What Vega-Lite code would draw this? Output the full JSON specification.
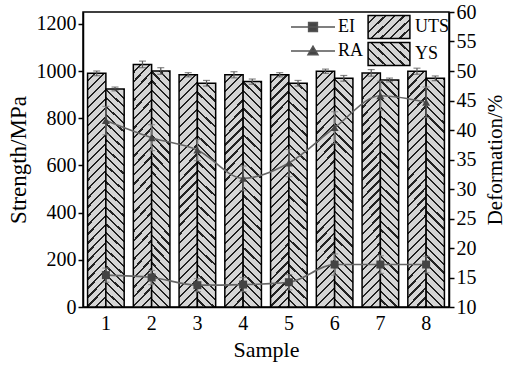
{
  "$schema": "https://vega.github.io/schema/vega-lite/v6.json",
  "width": 366,
  "height": 295,
  "autosize": "none",
  "padding": {"left": 83, "top": 12, "right": 59, "bottom": 62},
  "config": {
    "font": "Liberation Serif",
    "view": {"stroke": "black", "strokeWidth": 1.5},
    "axis": {"domainColor": "black", "domainWidth": 1.5, "tickColor": "black", "tickWidth": 1.5, "labelColor": "black", "titleColor": "black", "grid": false, "labelFontSize": 20, "titleFontSize": 22, "titleFontWeight": "normal"},
    "legend": {"labelColor": "black"}
  },
  "datasets": {
    "bars": [
      {"Sample": 1, "Type": "UTS", "Value": 990, "Lo": 980, "Hi": 1000},
      {"Sample": 1, "Type": "YS", "Value": 924, "Lo": 916, "Hi": 932},
      {"Sample": 2, "Type": "UTS", "Value": 1028, "Lo": 1014, "Hi": 1042},
      {"Sample": 2, "Type": "YS", "Value": 1000, "Lo": 986, "Hi": 1014},
      {"Sample": 3, "Type": "UTS", "Value": 984, "Lo": 975, "Hi": 993},
      {"Sample": 3, "Type": "YS", "Value": 948, "Lo": 936, "Hi": 960},
      {"Sample": 4, "Type": "UTS", "Value": 984, "Lo": 971, "Hi": 997},
      {"Sample": 4, "Type": "YS", "Value": 955, "Lo": 944, "Hi": 966},
      {"Sample": 5, "Type": "UTS", "Value": 984, "Lo": 975, "Hi": 993},
      {"Sample": 5, "Type": "YS", "Value": 948, "Lo": 936, "Hi": 960},
      {"Sample": 6, "Type": "UTS", "Value": 999, "Lo": 990, "Hi": 1008},
      {"Sample": 6, "Type": "YS", "Value": 969, "Lo": 957, "Hi": 981},
      {"Sample": 7, "Type": "UTS", "Value": 992, "Lo": 978, "Hi": 1006},
      {"Sample": 7, "Type": "YS", "Value": 962, "Lo": 954, "Hi": 970},
      {"Sample": 8, "Type": "UTS", "Value": 999, "Lo": 986, "Hi": 1012},
      {"Sample": 8, "Type": "YS", "Value": 969, "Lo": 959, "Hi": 979}
    ],
    "lines": [
      {"Series": "EI", "Sample": 1, "Value": 15.4, "Lo": 14.2, "Hi": 16.6},
      {"Series": "EI", "Sample": 2, "Value": 15.0, "Lo": 13.8, "Hi": 16.2},
      {"Series": "EI", "Sample": 3, "Value": 13.7, "Lo": 12.6, "Hi": 14.8},
      {"Series": "EI", "Sample": 4, "Value": 13.8, "Lo": 12.6, "Hi": 15.0},
      {"Series": "EI", "Sample": 5, "Value": 14.2, "Lo": 12.9, "Hi": 15.5},
      {"Series": "EI", "Sample": 6, "Value": 17.2, "Lo": 15.4, "Hi": 19.0},
      {"Series": "EI", "Sample": 7, "Value": 17.2, "Lo": 15.7, "Hi": 18.7},
      {"Series": "EI", "Sample": 8, "Value": 17.2, "Lo": 15.8, "Hi": 18.6},
      {"Series": "RA", "Sample": 1, "Value": 41.6, "Lo": 39.2, "Hi": 44.0},
      {"Series": "RA", "Sample": 2, "Value": 38.7, "Lo": 36.5, "Hi": 40.9},
      {"Series": "RA", "Sample": 3, "Value": 36.6, "Lo": 34.8, "Hi": 38.4},
      {"Series": "RA", "Sample": 4, "Value": 31.8, "Lo": 29.7, "Hi": 33.9},
      {"Series": "RA", "Sample": 5, "Value": 34.4, "Lo": 32.1, "Hi": 36.7},
      {"Series": "RA", "Sample": 6, "Value": 40.4, "Lo": 37.7, "Hi": 43.1},
      {"Series": "RA", "Sample": 7, "Value": 45.8, "Lo": 43.3, "Hi": 48.3},
      {"Series": "RA", "Sample": 8, "Value": 44.7, "Lo": 42.1, "Hi": 47.3}
    ]
  },
  "encoding": {
    "x": {"field": "Sample", "type": "ordinal", "scale": {"domain": [1, 2, 3, 4, 5, 6, 7, 8], "paddingInner": 0.2, "paddingOuter": 0.1}, "axis": {"title": "Sample", "labelAngle": 0, "ticks": false, "labelPadding": 6, "titlePadding": 6, "titleFontSize": 22}}
  },
  "layer": [
    {
      "data": {"name": "bars"},
      "encoding": {
        "y": {"field": "Value", "type": "quantitative", "title": "Strength/MPa", "scale": {"domain": [0, 1250], "nice": false}, "axis": {"orient": "left", "values": [0, 200, 400, 600, 800, 1000, 1200], "format": "d", "tickSize": 5, "labelPadding": 2, "titleFontSize": 23, "titlePadding": 6}}
      },
      "layer": [
        {
          "transform": [{"filter": "datum.Type === 'UTS'"}],
          "mark": {"type": "bar", "stroke": "black", "strokeWidth": 1.5, "fill": {"gradient": "linear", "x1": 0, "y1": 0, "x2": 0.0854, "y2": 1.0728, "stops": [
            {"offset": 0, "color": "#d6d6d6"}, {"offset": 0.0268, "color": "#d6d6d6"}, {"offset": 0.0268, "color": "#222222"}, {"offset": 0.0357, "color": "#222222"},
            {"offset": 0.0357, "color": "#d6d6d6"}, {"offset": 0.0625, "color": "#d6d6d6"}, {"offset": 0.0625, "color": "#222222"}, {"offset": 0.0714, "color": "#222222"},
            {"offset": 0.0714, "color": "#d6d6d6"}, {"offset": 0.0982, "color": "#d6d6d6"}, {"offset": 0.0982, "color": "#222222"}, {"offset": 0.1071, "color": "#222222"},
            {"offset": 0.1071, "color": "#d6d6d6"}, {"offset": 0.1339, "color": "#d6d6d6"}, {"offset": 0.1339, "color": "#222222"}, {"offset": 0.1429, "color": "#222222"},
            {"offset": 0.1429, "color": "#d6d6d6"}, {"offset": 0.1696, "color": "#d6d6d6"}, {"offset": 0.1696, "color": "#222222"}, {"offset": 0.1786, "color": "#222222"},
            {"offset": 0.1786, "color": "#d6d6d6"}, {"offset": 0.2054, "color": "#d6d6d6"}, {"offset": 0.2054, "color": "#222222"}, {"offset": 0.2143, "color": "#222222"},
            {"offset": 0.2143, "color": "#d6d6d6"}, {"offset": 0.2411, "color": "#d6d6d6"}, {"offset": 0.2411, "color": "#222222"}, {"offset": 0.25, "color": "#222222"},
            {"offset": 0.25, "color": "#d6d6d6"}, {"offset": 0.2768, "color": "#d6d6d6"}, {"offset": 0.2768, "color": "#222222"}, {"offset": 0.2857, "color": "#222222"},
            {"offset": 0.2857, "color": "#d6d6d6"}, {"offset": 0.3125, "color": "#d6d6d6"}, {"offset": 0.3125, "color": "#222222"}, {"offset": 0.3214, "color": "#222222"},
            {"offset": 0.3214, "color": "#d6d6d6"}, {"offset": 0.3482, "color": "#d6d6d6"}, {"offset": 0.3482, "color": "#222222"}, {"offset": 0.3571, "color": "#222222"},
            {"offset": 0.3571, "color": "#d6d6d6"}, {"offset": 0.3839, "color": "#d6d6d6"}, {"offset": 0.3839, "color": "#222222"}, {"offset": 0.3929, "color": "#222222"},
            {"offset": 0.3929, "color": "#d6d6d6"}, {"offset": 0.4196, "color": "#d6d6d6"}, {"offset": 0.4196, "color": "#222222"}, {"offset": 0.4286, "color": "#222222"},
            {"offset": 0.4286, "color": "#d6d6d6"}, {"offset": 0.4554, "color": "#d6d6d6"}, {"offset": 0.4554, "color": "#222222"}, {"offset": 0.4643, "color": "#222222"},
            {"offset": 0.4643, "color": "#d6d6d6"}, {"offset": 0.4911, "color": "#d6d6d6"}, {"offset": 0.4911, "color": "#222222"}, {"offset": 0.5, "color": "#222222"},
            {"offset": 0.5, "color": "#d6d6d6"}, {"offset": 0.5268, "color": "#d6d6d6"}, {"offset": 0.5268, "color": "#222222"}, {"offset": 0.5357, "color": "#222222"},
            {"offset": 0.5357, "color": "#d6d6d6"}, {"offset": 0.5625, "color": "#d6d6d6"}, {"offset": 0.5625, "color": "#222222"}, {"offset": 0.5714, "color": "#222222"},
            {"offset": 0.5714, "color": "#d6d6d6"}, {"offset": 0.5982, "color": "#d6d6d6"}, {"offset": 0.5982, "color": "#222222"}, {"offset": 0.6071, "color": "#222222"},
            {"offset": 0.6071, "color": "#d6d6d6"}, {"offset": 0.6339, "color": "#d6d6d6"}, {"offset": 0.6339, "color": "#222222"}, {"offset": 0.6429, "color": "#222222"},
            {"offset": 0.6429, "color": "#d6d6d6"}, {"offset": 0.6696, "color": "#d6d6d6"}, {"offset": 0.6696, "color": "#222222"}, {"offset": 0.6786, "color": "#222222"},
            {"offset": 0.6786, "color": "#d6d6d6"}, {"offset": 0.7054, "color": "#d6d6d6"}, {"offset": 0.7054, "color": "#222222"}, {"offset": 0.7143, "color": "#222222"},
            {"offset": 0.7143, "color": "#d6d6d6"}, {"offset": 0.7411, "color": "#d6d6d6"}, {"offset": 0.7411, "color": "#222222"}, {"offset": 0.75, "color": "#222222"},
            {"offset": 0.75, "color": "#d6d6d6"}, {"offset": 0.7768, "color": "#d6d6d6"}, {"offset": 0.7768, "color": "#222222"}, {"offset": 0.7857, "color": "#222222"},
            {"offset": 0.7857, "color": "#d6d6d6"}, {"offset": 0.8125, "color": "#d6d6d6"}, {"offset": 0.8125, "color": "#222222"}, {"offset": 0.8214, "color": "#222222"},
            {"offset": 0.8214, "color": "#d6d6d6"}, {"offset": 0.8482, "color": "#d6d6d6"}, {"offset": 0.8482, "color": "#222222"}, {"offset": 0.8571, "color": "#222222"},
            {"offset": 0.8571, "color": "#d6d6d6"}, {"offset": 0.8839, "color": "#d6d6d6"}, {"offset": 0.8839, "color": "#222222"}, {"offset": 0.8929, "color": "#222222"},
            {"offset": 0.8929, "color": "#d6d6d6"}, {"offset": 0.9196, "color": "#d6d6d6"}, {"offset": 0.9196, "color": "#222222"}, {"offset": 0.9286, "color": "#222222"},
            {"offset": 0.9286, "color": "#d6d6d6"}, {"offset": 0.9554, "color": "#d6d6d6"}, {"offset": 0.9554, "color": "#222222"}, {"offset": 0.9643, "color": "#222222"},
            {"offset": 0.9643, "color": "#d6d6d6"}, {"offset": 0.9911, "color": "#d6d6d6"}, {"offset": 0.9911, "color": "#222222"}, {"offset": 1, "color": "#222222"}
          ]}},
          "encoding": {"xOffset": {"field": "Type", "type": "nominal", "scale": {"domain": ["UTS", "YS"], "paddingInner": 0, "paddingOuter": 0}}}
        },
        {
          "transform": [{"filter": "datum.Type === 'YS'"}],
          "mark": {"type": "bar", "stroke": "black", "strokeWidth": 1.5, "fill": {"gradient": "linear", "x1": 0, "y1": 1, "x2": 0.0854, "y2": -0.0728, "stops": [
            {"offset": 0, "color": "#d6d6d6"}, {"offset": 0.0268, "color": "#d6d6d6"}, {"offset": 0.0268, "color": "#222222"}, {"offset": 0.0357, "color": "#222222"},
            {"offset": 0.0357, "color": "#d6d6d6"}, {"offset": 0.0625, "color": "#d6d6d6"}, {"offset": 0.0625, "color": "#222222"}, {"offset": 0.0714, "color": "#222222"},
            {"offset": 0.0714, "color": "#d6d6d6"}, {"offset": 0.0982, "color": "#d6d6d6"}, {"offset": 0.0982, "color": "#222222"}, {"offset": 0.1071, "color": "#222222"},
            {"offset": 0.1071, "color": "#d6d6d6"}, {"offset": 0.1339, "color": "#d6d6d6"}, {"offset": 0.1339, "color": "#222222"}, {"offset": 0.1429, "color": "#222222"},
            {"offset": 0.1429, "color": "#d6d6d6"}, {"offset": 0.1696, "color": "#d6d6d6"}, {"offset": 0.1696, "color": "#222222"}, {"offset": 0.1786, "color": "#222222"},
            {"offset": 0.1786, "color": "#d6d6d6"}, {"offset": 0.2054, "color": "#d6d6d6"}, {"offset": 0.2054, "color": "#222222"}, {"offset": 0.2143, "color": "#222222"},
            {"offset": 0.2143, "color": "#d6d6d6"}, {"offset": 0.2411, "color": "#d6d6d6"}, {"offset": 0.2411, "color": "#222222"}, {"offset": 0.25, "color": "#222222"},
            {"offset": 0.25, "color": "#d6d6d6"}, {"offset": 0.2768, "color": "#d6d6d6"}, {"offset": 0.2768, "color": "#222222"}, {"offset": 0.2857, "color": "#222222"},
            {"offset": 0.2857, "color": "#d6d6d6"}, {"offset": 0.3125, "color": "#d6d6d6"}, {"offset": 0.3125, "color": "#222222"}, {"offset": 0.3214, "color": "#222222"},
            {"offset": 0.3214, "color": "#d6d6d6"}, {"offset": 0.3482, "color": "#d6d6d6"}, {"offset": 0.3482, "color": "#222222"}, {"offset": 0.3571, "color": "#222222"},
            {"offset": 0.3571, "color": "#d6d6d6"}, {"offset": 0.3839, "color": "#d6d6d6"}, {"offset": 0.3839, "color": "#222222"}, {"offset": 0.3929, "color": "#222222"},
            {"offset": 0.3929, "color": "#d6d6d6"}, {"offset": 0.4196, "color": "#d6d6d6"}, {"offset": 0.4196, "color": "#222222"}, {"offset": 0.4286, "color": "#222222"},
            {"offset": 0.4286, "color": "#d6d6d6"}, {"offset": 0.4554, "color": "#d6d6d6"}, {"offset": 0.4554, "color": "#222222"}, {"offset": 0.4643, "color": "#222222"},
            {"offset": 0.4643, "color": "#d6d6d6"}, {"offset": 0.4911, "color": "#d6d6d6"}, {"offset": 0.4911, "color": "#222222"}, {"offset": 0.5, "color": "#222222"},
            {"offset": 0.5, "color": "#d6d6d6"}, {"offset": 0.5268, "color": "#d6d6d6"}, {"offset": 0.5268, "color": "#222222"}, {"offset": 0.5357, "color": "#222222"},
            {"offset": 0.5357, "color": "#d6d6d6"}, {"offset": 0.5625, "color": "#d6d6d6"}, {"offset": 0.5625, "color": "#222222"}, {"offset": 0.5714, "color": "#222222"},
            {"offset": 0.5714, "color": "#d6d6d6"}, {"offset": 0.5982, "color": "#d6d6d6"}, {"offset": 0.5982, "color": "#222222"}, {"offset": 0.6071, "color": "#222222"},
            {"offset": 0.6071, "color": "#d6d6d6"}, {"offset": 0.6339, "color": "#d6d6d6"}, {"offset": 0.6339, "color": "#222222"}, {"offset": 0.6429, "color": "#222222"},
            {"offset": 0.6429, "color": "#d6d6d6"}, {"offset": 0.6696, "color": "#d6d6d6"}, {"offset": 0.6696, "color": "#222222"}, {"offset": 0.6786, "color": "#222222"},
            {"offset": 0.6786, "color": "#d6d6d6"}, {"offset": 0.7054, "color": "#d6d6d6"}, {"offset": 0.7054, "color": "#222222"}, {"offset": 0.7143, "color": "#222222"},
            {"offset": 0.7143, "color": "#d6d6d6"}, {"offset": 0.7411, "color": "#d6d6d6"}, {"offset": 0.7411, "color": "#222222"}, {"offset": 0.75, "color": "#222222"},
            {"offset": 0.75, "color": "#d6d6d6"}, {"offset": 0.7768, "color": "#d6d6d6"}, {"offset": 0.7768, "color": "#222222"}, {"offset": 0.7857, "color": "#222222"},
            {"offset": 0.7857, "color": "#d6d6d6"}, {"offset": 0.8125, "color": "#d6d6d6"}, {"offset": 0.8125, "color": "#222222"}, {"offset": 0.8214, "color": "#222222"},
            {"offset": 0.8214, "color": "#d6d6d6"}, {"offset": 0.8482, "color": "#d6d6d6"}, {"offset": 0.8482, "color": "#222222"}, {"offset": 0.8571, "color": "#222222"},
            {"offset": 0.8571, "color": "#d6d6d6"}, {"offset": 0.8839, "color": "#d6d6d6"}, {"offset": 0.8839, "color": "#222222"}, {"offset": 0.8929, "color": "#222222"},
            {"offset": 0.8929, "color": "#d6d6d6"}, {"offset": 0.9196, "color": "#d6d6d6"}, {"offset": 0.9196, "color": "#222222"}, {"offset": 0.9286, "color": "#222222"},
            {"offset": 0.9286, "color": "#d6d6d6"}, {"offset": 0.9554, "color": "#d6d6d6"}, {"offset": 0.9554, "color": "#222222"}, {"offset": 0.9643, "color": "#222222"},
            {"offset": 0.9643, "color": "#d6d6d6"}, {"offset": 0.9911, "color": "#d6d6d6"}, {"offset": 0.9911, "color": "#222222"}, {"offset": 1, "color": "#222222"}
          ]}},
          "encoding": {"xOffset": {"field": "Type", "type": "nominal", "scale": {"domain": ["UTS", "YS"], "paddingInner": 0, "paddingOuter": 0}}}
        },
        {
          "mark": {"type": "rule", "color": "#555555", "strokeWidth": 1.2},
          "encoding": {
            "xOffset": {"field": "Type", "type": "nominal"},
            "y": {"field": "Lo", "type": "quantitative", "title": "Strength/MPa"},
            "y2": {"field": "Hi"}
          }
        },
        {
          "mark": {"type": "tick", "color": "#555555", "size": 7, "thickness": 1.2},
          "encoding": {
            "xOffset": {"field": "Type", "type": "nominal"},
            "y": {"field": "Lo", "type": "quantitative", "title": "Strength/MPa"}
          }
        },
        {
          "mark": {"type": "tick", "color": "#555555", "size": 7, "thickness": 1.2},
          "encoding": {
            "xOffset": {"field": "Type", "type": "nominal"},
            "y": {"field": "Hi", "type": "quantitative", "title": "Strength/MPa"}
          }
        },
        {
          "transform": [{"filter": "datum.Value < 0"}],
          "mark": {"type": "point", "filled": false, "strokeWidth": 1.5, "opacity": 1},
          "encoding": {
            "stroke": {
              "field": "Type",
              "type": "nominal",
              "scale": {"domain": ["UTS", "YS"], "range": ["black", "black"]},
              "legend": {
                "orient": "none", "legendX": 294, "legendY": 3, "title": null,
                "symbolType": "M-1.9,-1.05H1.9V1.05H-1.9Z", "symbolSize": 484,
                "symbolStrokeWidth": 1.5,
                "labelFontSize": 18, "labelOffset": 14, "rowPadding": -6, "padding": 0,
                "encoding": {
                  "symbols": {
                    "stroke": {"value": "black"},
                    "strokeWidth": {"value": 1.5},
                    "opacity": {"value": 1},
                    "fill": {
                      "condition": {
                        "test": "datum.value === 'UTS'",
                        "value": {"gradient": "linear", "x1": 0, "y1": 0, "x2": 1.183, "y2": 0.685, "stops": [
                          {"offset": 0, "color": "#d6d6d6"}, {"offset": 0.1071, "color": "#d6d6d6"}, {"offset": 0.1071, "color": "#222222"}, {"offset": 0.1429, "color": "#222222"},
                          {"offset": 0.1429, "color": "#d6d6d6"}, {"offset": 0.25, "color": "#d6d6d6"}, {"offset": 0.25, "color": "#222222"}, {"offset": 0.2857, "color": "#222222"},
                          {"offset": 0.2857, "color": "#d6d6d6"}, {"offset": 0.3929, "color": "#d6d6d6"}, {"offset": 0.3929, "color": "#222222"}, {"offset": 0.4286, "color": "#222222"},
                          {"offset": 0.4286, "color": "#d6d6d6"}, {"offset": 0.5357, "color": "#d6d6d6"}, {"offset": 0.5357, "color": "#222222"}, {"offset": 0.5714, "color": "#222222"},
                          {"offset": 0.5714, "color": "#d6d6d6"}, {"offset": 0.6786, "color": "#d6d6d6"}, {"offset": 0.6786, "color": "#222222"}, {"offset": 0.7143, "color": "#222222"},
                          {"offset": 0.7143, "color": "#d6d6d6"}, {"offset": 0.8214, "color": "#d6d6d6"}, {"offset": 0.8214, "color": "#222222"}, {"offset": 0.8571, "color": "#222222"},
                          {"offset": 0.8571, "color": "#d6d6d6"}, {"offset": 0.9643, "color": "#d6d6d6"}, {"offset": 0.9643, "color": "#222222"}, {"offset": 1, "color": "#222222"}
                        ]}
                      },
                      "value": {"gradient": "linear", "x1": 0, "y1": 1, "x2": 1.183, "y2": 0.315, "stops": [
                        {"offset": 0, "color": "#d6d6d6"}, {"offset": 0.1071, "color": "#d6d6d6"}, {"offset": 0.1071, "color": "#222222"}, {"offset": 0.1429, "color": "#222222"},
                        {"offset": 0.1429, "color": "#d6d6d6"}, {"offset": 0.25, "color": "#d6d6d6"}, {"offset": 0.25, "color": "#222222"}, {"offset": 0.2857, "color": "#222222"},
                        {"offset": 0.2857, "color": "#d6d6d6"}, {"offset": 0.3929, "color": "#d6d6d6"}, {"offset": 0.3929, "color": "#222222"}, {"offset": 0.4286, "color": "#222222"},
                        {"offset": 0.4286, "color": "#d6d6d6"}, {"offset": 0.5357, "color": "#d6d6d6"}, {"offset": 0.5357, "color": "#222222"}, {"offset": 0.5714, "color": "#222222"},
                        {"offset": 0.5714, "color": "#d6d6d6"}, {"offset": 0.6786, "color": "#d6d6d6"}, {"offset": 0.6786, "color": "#222222"}, {"offset": 0.7143, "color": "#222222"},
                        {"offset": 0.7143, "color": "#d6d6d6"}, {"offset": 0.8214, "color": "#d6d6d6"}, {"offset": 0.8214, "color": "#222222"}, {"offset": 0.8571, "color": "#222222"},
                        {"offset": 0.8571, "color": "#d6d6d6"}, {"offset": 0.9643, "color": "#d6d6d6"}, {"offset": 0.9643, "color": "#222222"}, {"offset": 1, "color": "#222222"}
                      ]}
                    }
                  }
                }
              }
            }
          }
        }
      ]
    },
    {
      "data": {"name": "lines"},
      "encoding": {
        "y": {"field": "Value", "type": "quantitative", "title": "Deformation/%", "scale": {"domain": [10, 60], "nice": false, "zero": false}, "axis": {"orient": "right", "values": [10, 15, 20, 25, 30, 35, 40, 45, 50, 55, 60], "tickSize": 5, "labelPadding": 2, "titleFontSize": 21, "titleAngle": 270, "titleBaseline": "top", "titlePadding": 8}}
      },
      "layer": [
        {
          "mark": {"type": "rule", "color": "#777777", "strokeWidth": 1.2},
          "encoding": {
            "y": {"field": "Lo", "type": "quantitative", "title": "Deformation/%"},
            "y2": {"field": "Hi"}
          }
        },
        {
          "mark": {"type": "tick", "color": "#777777", "size": 7, "thickness": 1.2},
          "encoding": {"y": {"field": "Lo", "type": "quantitative", "title": "Deformation/%"}}
        },
        {
          "mark": {"type": "tick", "color": "#777777", "size": 7, "thickness": 1.2},
          "encoding": {"y": {"field": "Hi", "type": "quantitative", "title": "Deformation/%"}}
        },
        {
          "mark": {"type": "line", "color": "#666666", "strokeWidth": 1.6, "interpolate": "monotone"},
          "encoding": {"detail": {"field": "Series", "type": "nominal"}}
        },
        {
          "transform": [{"filter": "datum.Series === 'EI'"}],
          "mark": {"type": "point", "shape": "square", "filled": true, "color": "#444444", "opacity": 1, "size": 64}
        },
        {
          "transform": [{"filter": "datum.Series === 'RA'"}],
          "mark": {"type": "point", "shape": "triangle-up", "filled": true, "color": "#444444", "opacity": 1, "size": 64}
        },
        {
          "transform": [{"filter": "datum.Value < 0"}],
          "mark": {"type": "point", "filled": true, "fill": "#444444", "stroke": "#444444", "strokeWidth": 1.5, "opacity": 1},
          "encoding": {
            "shape": {
              "field": "Series",
              "type": "nominal",
              "scale": {"domain": ["EI", "RA"], "range": ["M-2,0H2M-0.4,-0.4H0.4V0.4H-0.4Z", "M-2,0H2M-0.45,0.34L0,-0.44L0.45,0.34Z"]},
              "legend": {
                "orient": "none", "legendX": 218, "legendY": 3, "title": null,
                "symbolSize": 484, "labelFontSize": 18, "labelOffset": 13, "rowPadding": 3, "padding": 0,
                "encoding": {"symbols": {"stroke": {"value": "#555555"}, "strokeWidth": {"value": 1.5}, "fill": {"value": "#444444"}, "opacity": {"value": 1}}}
              }
            }
          }
        }
      ]
    }
  ],
  "resolve": {"scale": {"y": "independent"}}
}
